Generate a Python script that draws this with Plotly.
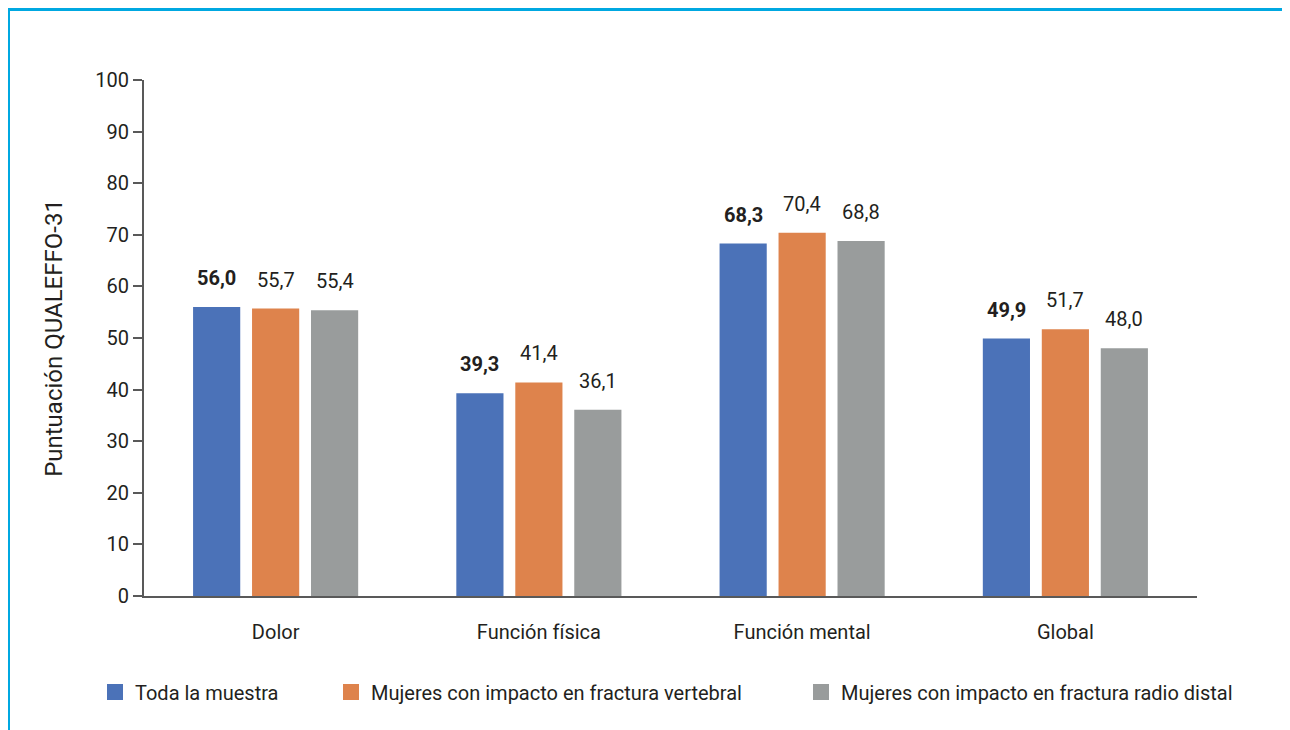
import plotly.graph_objects as go

categories = ["Dolor", "Función física", "Función mental", "Global"]
series_names = ["Toda la muestra",
                "Mujeres con impacto en fractura vertebral",
                "Mujeres con impacto en fractura radio distal"]
toda = [56.0, 39.3, 68.3, 49.9]
vertebral = [55.7, 41.4, 70.4, 51.7]
radio = [55.4, 36.1, 68.8, 48.0]
y_ticks = [0, 10, 20, 30, 40, 50, 60, 70, 80, 90, 100]

colors = ["#4B72B8", "#DE834C", "#999C9C"]
FONT = "Roboto, sans-serif"
TXT = "#231F20"

# page has an 8px body margin; figure is sized so the page matches 1290x730
W, H = 1282, 722
L, R, T, B = 136, 93, 72, 134

def px_x(p):
    return (p - L) / (W - L - R)

def px_y(p):
    return (H - B - p) / (H - T - B)

fig = go.Figure()
all_series = [toda, vertebral, radio]
legend_ids = ["legend", "legend2", "legend3"]
for name, vals, c, lg in zip(series_names, all_series, colors, legend_ids):
    fig.add_trace(go.Bar(x=categories, y=vals, name=name, marker_color=c,
                         marker_line_width=0, showlegend=False))
    # legend entry with a larger square symbol
    fig.add_trace(go.Scatter(x=[None], y=[None], mode="markers", name=name,
                             marker=dict(symbol="square", size=16, color=c),
                             legend=lg, showlegend=True))

fmt = lambda v: f"{v:.1f}".replace(".", ",")
slot = 59
for i, vals in enumerate(all_series):
    for cat, v in zip(categories, vals):
        t = fmt(v)
        if i == 0:
            t = f"<b>{t}</b>"
        fig.add_annotation(x=cat, y=v, text=t, showarrow=False,
                           xshift=(i - 1) * slot, yshift=15, yanchor="bottom",
                           font=dict(family=FONT, size=20, color=TXT))

line_col = "#00A8E1"
fig.add_shape(type="line", xref="paper", yref="paper",
              x0=px_x(0), x1=px_x(W + 20), y0=px_y(1.5), y1=px_y(1.5),
              line=dict(color=line_col, width=3))
fig.add_shape(type="line", xref="paper", yref="paper",
              x0=px_x(0.5), x1=px_x(0.5), y0=px_y(0), y1=px_y(H + 20),
              line=dict(color=line_col, width=3))

leg_font = dict(family=FONT, size=20, color=TXT)
leg_y = px_y(684)
leg_common = dict(orientation="h", xanchor="left", y=leg_y, yanchor="middle",
                  font=leg_font, bgcolor="rgba(0,0,0,0)")

fig.update_layout(
    width=W, height=H,
    margin=dict(l=L, r=R, t=T, b=B, autoexpand=False),
    plot_bgcolor="white", paper_bgcolor="white",
    barmode="group", bargap=0.328, bargroupgap=0.2,
    font=dict(family=FONT, size=20, color=TXT),
    showlegend=True,
    legend=dict(x=px_x(87), **leg_common),
    legend2=dict(x=px_x(323), **leg_common),
    legend3=dict(x=px_x(793), **leg_common),
)
fig.update_yaxes(range=[0, 100], tickvals=y_ticks, showgrid=False,
                 showline=True, linecolor="#595959", linewidth=2,
                 ticks="outside", ticklen=9, tickwidth=2, tickcolor="#595959",
                 tickfont=dict(family=FONT, size=20, color=TXT),
                 title=dict(text="Puntuación QUALEFFO-31", standoff=26,
                            font=dict(family=FONT, size=24, color=TXT)),
                 zeroline=False)
fig.update_xaxes(showline=True, linecolor="#595959", linewidth=2,
                 ticks="", ticklabelstandoff=17,
                 tickfont=dict(family=FONT, size=20, color=TXT))

fig.write_html("out.html")
